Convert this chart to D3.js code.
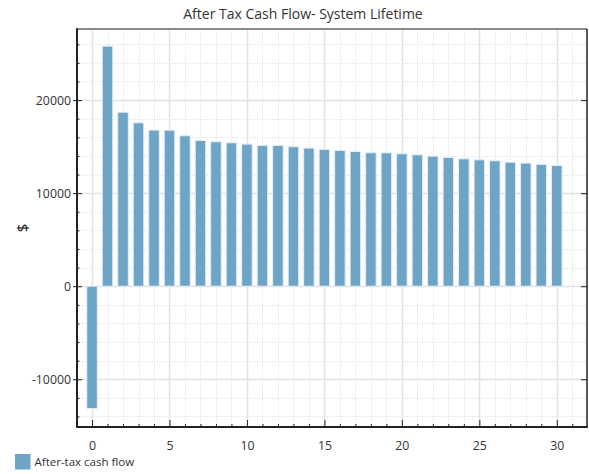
<!DOCTYPE html>
<html><head><meta charset="utf-8">
<script src="https://cdn.jsdelivr.net/npm/d3@7"></script>
<style>body{margin:0;background:#fff;}svg{display:block;font-family:"Open Sans","Noto Sans",sans-serif;}</style>
</head><body>
<svg id="chart" width="589" height="474"></svg>
<script>
const title = "After Tax Cash Flow- System Lifetime";
const yLabel = "$";
const seriesName = "After-tax cash flow";
const years = d3.range(0, 31);
const cashFlow = [-13150, 25800, 18700, 17560, 16780, 16770, 16170, 15660, 15520, 15410,
  15270, 15130, 15120, 14990, 14840, 14700, 14590, 14480, 14340, 14330,
  14230, 14120, 13980, 13840, 13690, 13580, 13480, 13330, 13230, 13090, 12980];
const xMajorTicks = [0, 5, 10, 15, 20, 25, 30];
const yMajorTicks = [-10000, 0, 10000, 20000];

const svg = d3.select("#chart");
const L = 77, R = 587, T = 29, B = 427;
const x = d3.scaleLinear().domain([-0.97, 31.95]).range([L, R]);
const y = d3.scaleLinear().domain([-15130, 27640]).range([B, T]);

const barColor = "#6ea5c6";
const textColor = "#333";
const fmt = d => String(d);

// grid
const g = svg.append("g");
const xMinor = d3.range(0, 32).filter(v => v % 5 !== 0);
const yMinor = d3.range(-14000, 27000, 2000).filter(v => v % 10000 !== 0);
g.selectAll(".xm").data(xMinor).join("line")
  .attr("x1", d => Math.round(x(d)) + 0.5).attr("x2", d => Math.round(x(d)) + 0.5)
  .attr("y1", T).attr("y2", B)
  .attr("stroke", "#dcdcdc").attr("stroke-dasharray", "1,1.5");
g.selectAll(".ym").data(yMinor).join("line")
  .attr("y1", d => Math.round(y(d)) + 0.5).attr("y2", d => Math.round(y(d)) + 0.5)
  .attr("x1", L).attr("x2", R)
  .attr("stroke", "#dcdcdc").attr("stroke-dasharray", "1,1.5");
g.selectAll(".xM").data(xMajorTicks).join("line")
  .attr("x1", d => Math.round(x(d)) + 0.5).attr("x2", d => Math.round(x(d)) + 0.5)
  .attr("y1", T).attr("y2", B)
  .attr("stroke", "#e2e2e2").attr("stroke-width", 1.5);
g.selectAll(".yM").data(yMajorTicks).join("line")
  .attr("y1", d => Math.round(y(d)) + 0.5).attr("y2", d => Math.round(y(d)) + 0.5)
  .attr("x1", L).attr("x2", R)
  .attr("stroke", "#e2e2e2").attr("stroke-width", 1.5);

// bars
const bw = x(0.68) - x(0);
svg.append("g").selectAll("rect").data(years).join("rect")
  .attr("x", d => x(d) - bw / 2)
  .attr("width", bw)
  .attr("y", d => y(Math.max(0, cashFlow[d])))
  .attr("height", d => Math.abs(y(cashFlow[d]) - y(0)))
  .attr("fill", barColor)
  .attr("stroke", "#e4eef5").attr("stroke-width", 1);

// frame
svg.append("line").attr("x1", L).attr("x2", R).attr("y1", T).attr("y2", T).attr("stroke", "#666").attr("stroke-width", 1.5);
svg.append("line").attr("x1", R).attr("x2", R).attr("y1", T).attr("y2", B).attr("stroke", "#222").attr("stroke-width", 1.5);

// axes
const xAxis = svg.append("g").attr("transform", `translate(0,${B})`);
xAxis.call(d3.axisBottom(x).tickValues(xMinor).tickSize(-3).tickFormat(""));
xAxis.call(g2 => g2.select(".domain").remove());
const xAxis2 = svg.append("g").attr("transform", `translate(0,${B})`)
  .call(d3.axisBottom(x).tickValues(xMajorTicks).tickSize(-7).tickPadding(14).tickFormat(fmt));
xAxis2.select(".domain").remove();

const yAxisMinor = svg.append("g").attr("transform", `translate(${L},0)`)
  .call(d3.axisLeft(y).tickValues(yMinor).tickSize(-2.5).tickFormat(""));
yAxisMinor.select(".domain").remove();
const yAxis = svg.append("g").attr("transform", `translate(${L},0)`)
  .call(d3.axisLeft(y).tickValues(yMajorTicks).tickSize(4).tickPadding(2).tickFormat(fmt));
yAxis.select(".domain").remove();
yAxis.selectAll(".tick line").attr("x2", 5).attr("x1", -4);
// right ticks
const yRight = svg.append("g").attr("transform", `translate(${R},0)`);
yRight.call(d3.axisRight(y).tickValues(yMinor).tickSize(-3).tickFormat(""));
yRight.call(d3.axisRight(y).tickValues(yMajorTicks).tickSize(-6).tickFormat(""));
yRight.selectAll(".domain").remove();
svg.selectAll(".tick line").attr("stroke", "#222");

svg.append("line").attr("x1", L).attr("x2", R + 0.75).attr("y1", B).attr("y2", B).attr("stroke", "#222").attr("stroke-width", 2);
svg.append("line").attr("x1", L).attr("x2", L).attr("y1", T - 0.75).attr("y2", B + 1).attr("stroke", "#222").attr("stroke-width", 2);

svg.selectAll(".tick text").attr("fill", textColor).style("font-size", "12.3px")
  .style("font-family", "'Open Sans','Noto Sans',sans-serif");

// title
svg.append("text").attr("x", 303).attr("y", 19).attr("text-anchor", "middle")
  .attr("fill", textColor).style("font-size", "14px").text(title);
// y label
svg.append("text").attr("transform", "translate(28,228) rotate(-90)").attr("text-anchor", "middle")
  .attr("fill", "#111").style("font-size", "15px").text(yLabel);
// legend
svg.append("rect").attr("x", 15).attr("y", 454).attr("width", 15.5).attr("height", 15.5).attr("fill", barColor);
svg.append("text").attr("x", 34.5).attr("y", 466).attr("fill", textColor).style("font-size", "11.5px").text(seriesName);
</script>
</body></html>
